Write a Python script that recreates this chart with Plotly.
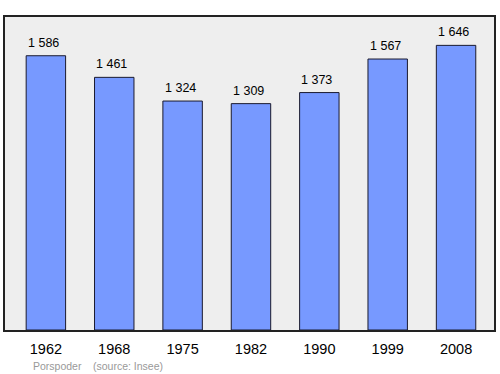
import plotly.graph_objects as go

years = ["1962", "1968", "1975", "1982", "1990", "1999", "2008"]
population = [1586, 1461, 1324, 1309, 1373, 1567, 1646]
value_labels = ["1 586", "1 461", "1 324", "1 309", "1 373", "1 567", "1 646"]
commune = "Porspoder"
source = "(source: Insee)"

x_idx = list(range(len(years)))

fig = go.Figure()
fig.add_trace(go.Bar(
    x=x_idx, y=population, width=0.577,
    marker=dict(color="#7799ff", line=dict(color="#1a1a2e", width=1)),
    hoverinfo="skip",
))

for i, (v, lab) in enumerate(zip(population, value_labels)):
    fig.add_annotation(x=i, y=v, text=lab, showarrow=False, xanchor="center",
                       yanchor="bottom", yshift=4, xshift=-2.5,
                       font=dict(family="Liberation Sans, Arial", size=12.5, color="#000"))

fig.add_annotation(xref="paper", yref="paper", x=(30.7 - 5) / 489.5, y=-(365.5 - 330) / 313,
                   text=commune, showarrow=False, xanchor="left", yanchor="middle",
                   font=dict(family="Liberation Sans, Arial", size=10.5, color="#999999"))
fig.add_annotation(xref="paper", yref="paper", x=(90.7 - 5) / 489.5, y=-(365.5 - 330) / 313,
                   text=source, showarrow=False, xanchor="left", yanchor="middle",
                   font=dict(family="Liberation Sans, Arial", size=10.5, color="#999999"))

fig.update_layout(
    width=500, height=374,
    margin=dict(l=5, r=5.5, t=17, b=44),
    paper_bgcolor="white", plot_bgcolor="#eeeeee",
    showlegend=False,
    xaxis=dict(range=[-0.598, 6.555], tickmode="array", tickvals=x_idx, ticktext=years,
               showgrid=False, zeroline=False, showline=True, mirror=True,
               linecolor="#222", linewidth=1.5, ticks="", ticklen=0, ticklabelstandoff=5,
               tickfont=dict(family="Liberation Sans, Arial", size=14.5, color="#000")),
    yaxis=dict(range=[0, 1810], showgrid=False, zeroline=False, showticklabels=False,
               showline=True, mirror=True, linecolor="#222", linewidth=1.5, ticks=""),
)

fig.write_html("out.html")
